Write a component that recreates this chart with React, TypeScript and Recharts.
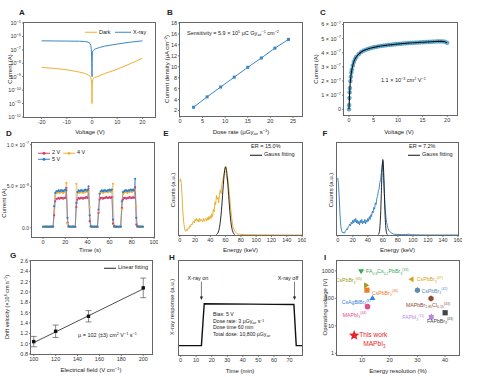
import React from 'react';
import { LineChart, Line, XAxis, YAxis, ErrorBar, ReferenceLine, ReferenceDot } from 'recharts';

const FONT = '"Liberation Sans", Arial, Helvetica, sans-serif';
const INK = '#222';
const FRAME = '#666';
const TICK_FS = 5.5;

// ---------- A: I-V curves (log current)
const A_VOLT = [-20, -15, -10, -5, -3, -2, -1, -0.5, -0.3, -0.15, -0.05, 0, 0.05, 0.15, 0.3, 0.5, 1, 2, 3, 5, 10, 15, 20];
const A_DARK = [4.9e-9, 4.2e-9, 3.3e-9, 2.2e-9, 1.8e-9, 1.5e-9, 1.2e-9, 9e-10, 6e-10, 3e-10, 8e-11, 1e-11, 2e-10, 4e-10, 6e-10, 7.5e-10, 8.5e-10, 1e-9, 1.2e-9, 1.7e-9, 3.6e-9, 9e-9, 2.4e-8];
const A_XRAY = [4.7e-7, 4.6e-7, 4.5e-7, 4.4e-7, 4.2e-7, 4.0e-7, 3.4e-7, 2.2e-7, 1.2e-7, 3e-8, 4e-9, 1e-9, 1e-8, 5e-8, 8e-8, 9e-8, 1.1e-7, 1.3e-7, 1.5e-7, 1.9e-7, 2.7e-7, 3.7e-7, 4.7e-7];
const A_XTICKS = [-20, -10, 0, 10, 20];
const A_YTICKS = [1e-12, 1e-11, 1e-10, 1e-9, 1e-8, 1e-7, 1e-6, 1e-5];

// ---------- B: current density vs dose rate
const B_DOSE = [3, 6, 9, 12, 15, 18, 21, 24];
const B_J = [2.6, 4.5, 6.3, 8.1, 9.9, 11.6, 13.4, 15.0];
const B_XTICKS = [0, 5, 10, 15, 20, 25];
const B_YTICKS = [2, 4, 6, 8, 10, 12, 14, 16, 18];

// ---------- C: photocurrent vs voltage (x 1e-7 A)
const C_VOLT = [0, 0.05, 0.1, 0.15, 0.2, 0.3, 0.4, 0.5, 0.6, 0.8, 1.0, 1.25, 1.5, 2, 2.5, 3, 3.5, 4, 4.5, 5, 5.5, 6, 6.5, 7, 7.5, 8, 8.5, 9, 9.5, 10, 10.5, 11, 11.5, 12, 12.5, 13, 13.5, 14, 14.5, 15, 15.5, 16, 16.5, 17, 17.5, 18, 18.5, 19, 19.5, 20];
const C_CUR = [0, 0.3, 0.8, 1.2, 1.5, 2.0, 2.3, 2.6, 2.8, 3.1, 3.35, 3.55, 3.7, 3.9, 4.05, 4.15, 4.22, 4.28, 4.33, 4.38, 4.41, 4.45, 4.48, 4.5, 4.52, 4.55, 4.56, 4.58, 4.6, 4.62, 4.63, 4.65, 4.66, 4.68, 4.69, 4.7, 4.71, 4.72, 4.73, 4.74, 4.75, 4.76, 4.77, 4.78, 4.79, 4.8, 4.8, 4.8, 4.78, 4.7];
const C_XTICKS = [0, 5, 10, 15, 20];
const C_YTICKS = [0, 1, 2, 3, 4, 5, 6];

// ---------- D: on/off response (x 1e-8 A)
const D_TIME = [0, 1, 2, 3, 4, 5, 6, 7, 8, 9, 10, 11, 12, 13, 14, 15, 16, 17, 18, 19, 20, 21, 22, 23, 24, 25, 26, 27, 28, 29, 30, 31, 32, 33, 34, 35, 36, 37, 38, 39, 40, 41, 42, 43, 44, 45, 46, 47, 48, 49, 50, 51, 52, 53, 54, 55, 56, 57, 58, 59, 60, 61, 62, 63, 64, 65, 66, 67, 68, 69, 70, 71, 72, 73, 74, 75, 76, 77, 78, 79, 80, 81, 82, 83, 84, 85, 86, 87, 88, 89, 90];
const D_2V = [0.1, 0.12, 0.1, 0.11, 0.1, 0.1, 0.12, 0.1, 0.11, 0.1,
  1.5, 3.2, 3.5, 3.5, 3.6, 3.5, 3.6, 3.6, 3.5, 3.6,
  3.6, 4.8, 0.6, 0.12, 0.1, 0.11, 0.1, 0.12, 0.1, 0.1,
  2.5, 3.4, 3.6, 3.5, 3.6, 3.6, 3.5, 3.6, 3.6, 3.7,
  3.6, 4.7, 0.8, 0.12, 0.1, 0.1, 0.11, 0.1, 0.12, 0.1,
  1.8, 3.4, 3.6, 3.6, 3.5, 3.6, 3.6, 3.7, 3.6, 3.6,
  3.7, 3.6, 3.7, 0.5, 0.12, 0.1, 0.11, 0.1, 0.1, 0.12,
  0.1, 2.4, 3.4, 3.6, 3.6, 3.5, 3.6, 3.6, 3.7, 3.6,
  3.6, 3.7, 3.6, 4.9, 0.4, 0.1, 0.11, 0.1, 0.12, 0.1, 0.1];
const D_4V = [0.12, 0.1, 0.11, 0.12, 0.1, 0.11, 0.12, 0.1, 0.11, 0.12,
  2.0, 3.8, 4.2, 4.2, 4.3, 4.2, 4.3, 4.3, 4.2, 4.3,
  4.3, 5.4, 0.5, 0.12, 0.1, 0.11, 0.12, 0.1, 0.11, 0.1,
  5.3, 4.2, 4.3, 4.2, 4.3, 4.3, 4.2, 4.3, 4.3, 4.4,
  4.3, 4.4, 2.5, 0.12, 0.1, 0.11, 0.12, 0.1, 0.1, 0.11,
  2.0, 4.1, 4.3, 4.3, 4.2, 4.3, 4.3, 4.4, 4.3, 4.3,
  4.4, 4.3, 4.4, 5.3, 0.3, 0.1, 0.11, 0.12, 0.1, 0.1,
  0.11, 2.2, 4.0, 4.2, 4.3, 4.3, 4.2, 4.3, 4.3, 4.4,
  4.3, 4.4, 4.4, 4.5, 2.6, 0.12, 0.1, 0.11, 0.1, 0.12, 0.1];
const D_5V = [0.15, 0.13, 0.16, 0.14, 0.15, 0.12, 0.15, 0.16, 0.14, 0.15,
  2.6, 4.2, 4.4, 4.4, 4.5, 4.4, 4.5, 4.5, 4.4, 4.5,
  4.6, 4.5, 1.2, 0.2, 0.15, 0.13, 0.16, 0.14, 0.15, 0.13,
  3.0, 4.3, 4.5, 4.4, 4.5, 4.5, 4.4, 4.5, 4.6, 4.5,
  4.5, 5.0, 1.5, 0.2, 0.14, 0.15, 0.13, 0.16, 0.15, 0.14,
  2.2, 4.1, 4.4, 4.5, 4.4, 4.5, 4.5, 4.4, 4.5, 4.5,
  4.6, 4.5, 4.6, 1.0, 0.2, 0.15, 0.14, 0.16, 0.13, 0.15,
  0.15, 3.2, 4.3, 4.4, 4.5, 4.5, 4.4, 4.5, 4.5, 4.6,
  4.5, 4.6, 4.5, 5.9, 1.2, 0.2, 0.15, 0.14, 0.16, 0.15, 0.15];
const D_XTICKS = [0, 20, 40, 60, 80, 100];
const D_YTICKS = [0, 5, 10];

// ---------- E: energy spectrum, ER 15.0%
const E_KEV = [0, 1, 2, 3, 4, 5, 6, 7, 8, 9, 10, 11, 12, 13, 14, 15, 16, 17, 18, 19, 20, 21, 22, 23, 24, 25, 26, 27, 28, 29, 30, 31, 32, 33, 34, 35, 36, 37, 38, 39, 40, 41, 42, 43, 44, 45, 46, 47, 48, 49, 50, 51, 52, 53, 54, 55, 56, 57, 58, 59, 60, 61, 62, 63, 64, 65, 66, 67, 68, 69, 70, 71, 72, 73, 74, 75, 76, 78, 80, 85, 90, 100, 110, 120, 130, 140, 150, 160];
const E_COUNTS = [0.58, 0.61, 0.56, 0.43, 0.26, 0.15, 0.09, 0.05, 0.04, 0.06,
  0.05, 0.08, 0.07, 0.1, 0.09, 0.12, 0.11, 0.14, 0.15, 0.13,
  0.17, 0.15, 0.18, 0.15, 0.17, 0.14, 0.18, 0.15, 0.17, 0.16,
  0.14, 0.18, 0.15, 0.17, 0.18, 0.15, 0.19, 0.16, 0.2, 0.17,
  0.21, 0.18, 0.23, 0.2, 0.28, 0.25, 0.36, 0.33, 0.43, 0.39,
  0.41, 0.35, 0.44, 0.49, 0.45, 0.54, 0.59, 0.62, 0.67, 0.71,
  0.75, 0.65, 0.6, 0.61, 0.52, 0.44, 0.35, 0.26, 0.19, 0.12,
  0.08, 0.06, 0.04, 0.03, 0.02, 0.015, 0.01, 0.01, 0.006, 0.004, 0.003, 0.002, 0.001, 0.001, 0, 0, 0, 0];
const E_FIT_KEV = [48, 49, 50, 51, 52, 53, 54, 55, 56, 57, 58, 59, 60, 61, 62, 63, 64, 65, 66, 67, 68, 69, 70, 71, 72];
const E_FIT = [0.005, 0.012, 0.024, 0.046, 0.083, 0.138, 0.216, 0.314, 0.428, 0.544, 0.645, 0.715, 0.74, 0.715, 0.645, 0.544, 0.428, 0.314, 0.216, 0.138, 0.083, 0.046, 0.024, 0.012, 0.005];

// ---------- F: energy spectrum, ER 7.2%
const F_KEV = [0, 1, 2, 3, 4, 5, 6, 7, 8, 9, 10, 11, 12, 13, 14, 15, 16, 17, 18, 19, 20, 21, 22, 23, 24, 25, 26, 27, 28, 29, 30, 31, 32, 33, 34, 35, 36, 37, 38, 39, 40, 41, 42, 43, 44, 45, 46, 47, 48, 49, 50, 51, 52, 53, 54, 55, 56, 57, 58, 59, 60, 61, 62, 63, 64, 65, 66, 67, 68, 69, 70, 72, 74, 76, 80, 85, 90, 95, 96, 100, 110, 120, 140, 160];
const F_COUNTS = [0.62, 0.55, 0.4, 0.22, 0.1, 0.05, 0.03, 0.02, 0.03, 0.02,
  0.04, 0.05, 0.07, 0.06, 0.09, 0.1, 0.12, 0.1, 0.14, 0.12,
  0.16, 0.13, 0.17, 0.14, 0.18, 0.13, 0.16, 0.12, 0.15, 0.11,
  0.16, 0.13, 0.17, 0.12, 0.15, 0.13, 0.17, 0.12, 0.16, 0.14,
  0.18, 0.15, 0.2, 0.17, 0.22, 0.2, 0.26, 0.24, 0.3, 0.28,
  0.35, 0.33, 0.4, 0.42, 0.48, 0.5, 0.57, 0.6, 0.68, 0.75,
  0.8, 0.62, 0.45, 0.3, 0.2, 0.14, 0.1, 0.07, 0.05, 0.04,
  0.03, 0.02, 0.01, 0.008, 0.005, 0.005, 0.004, 0.01, 0.003, 0.002, 0.001, 0, 0, 0];
const F_FIT_KEV = [54, 55, 56, 57, 58, 59, 60, 61, 62, 63, 64, 65, 66];
const F_FIT = [0.004, 0.02, 0.077, 0.216, 0.453, 0.707, 0.82, 0.707, 0.453, 0.216, 0.077, 0.02, 0.004];
const EF_XTICKS = [0, 20, 40, 60, 80, 100, 120, 140, 160];

// ---------- G: drift velocity vs field
const G_FIELD = [100, 120, 150, 200];
const G_VEL = [1.04, 1.24, 1.53, 2.08];
const G_ERR = [0.1, 0.12, 0.11, 0.19];
const G_FIT_FIELD = [100, 200];
const G_FIT_VEL = [1.02, 2.06];
const G_XTICKS = [100, 120, 140, 160, 180, 200];
const G_YTICKS = [0.8, 1.0, 1.2, 1.4, 1.6, 1.8, 2.0, 2.2, 2.4, 2.6];

// ---------- H: long-term response
const H_MIN = [-1, 13.4, 15.2, 30, 45, 60, 72.8, 74.3, 78];
const H_RESP = [0.1, 0.1, 0.545, 0.543, 0.541, 0.539, 0.537, 0.1, 0.1];
const H_ARROW_X = [13.4, 73.2];
const H_ARROW_TOP = 0.78;
const H_ARROW_TIP = 0.585;
const H_XTICKS = [0, 10, 20, 30, 40, 50, 60, 70];

// ---------- I: comparison with literature
const I_IDS = ['fa', 'cs45', 'cs47', 'cs46', 'cs42', 'agbi', 'mapbi', 'mapbbr', 'fapbi', 'fapbbr', 'this'];
const I_LABELS = ['FA0.9Cs0.1PbBr3(33)', 'CsPbBr3(45)', 'CsPbBr3(47)', 'CsPbBr3(46)', 'CsPbBr3(42)', 'CsAgBiBr6(8)', 'MAPbI3(44)', 'MAPbBr2.85Cl0.15(43)', 'FAPbI3(11)', 'FAPbBr3(43)', 'This work'];
const I_RES = [9.7, 11.4, 28, 11.8, 30, 13.8, 12, 34.9, 35, 40, 7.2];
const I_VOLT = [1000, 300, 500, 200, 200, 100, 50, 100, 21, 30, 4.5];
const I_XTICKS = [10, 20, 30, 40];
const I_YTICKS = [1, 10, 100, 1000];

const I_STYLE: Record<string, { color: string; kind: string; dx: number; dy: number; anchor: 'start' | 'middle' | 'end' }> = {
  fa: { color: '#3aa65a', kind: 'triDown', dx: 5, dy: 2.5, anchor: 'start' },
  cs45: { color: '#9b9b1c', kind: 'triRight', dx: -4, dy: -3, anchor: 'end' },
  cs47: { color: '#d8a21c', kind: 'triLeft', dx: 5, dy: 2, anchor: 'start' },
  cs46: { color: '#f07b22', kind: 'square', dx: 5, dy: 4.5, anchor: 'start' },
  cs42: { color: '#5b8db8', kind: 'hex', dx: 4, dy: 2.5, anchor: 'start' },
  agbi: { color: '#2f7ee0', kind: 'triUp', dx: -2, dy: 5.5, anchor: 'end' },
  mapbi: { color: '#e24d8d', kind: 'circle', dx: -1, dy: 10, anchor: 'end' },
  mapbbr: { color: '#8c4a3c', kind: 'hex', dx: -3, dy: 8.5, anchor: 'middle' },
  fapbi: { color: '#b58ae6', kind: 'star6', dx: -7, dy: 2, anchor: 'end' },
  fapbbr: { color: '#444', kind: 'square', dx: -5, dy: 10, anchor: 'middle' },
  this: { color: '#e8222b', kind: 'star', dx: 5, dy: 1.5, anchor: 'start' },
};

// ---------- tables for recharts
const aDark = A_VOLT.map((x, i) => ({ x, y: A_DARK[i] }));
const aXray = A_VOLT.map((x, i) => ({ x, y: A_XRAY[i] }));
const bData = B_DOSE.map((x, i) => ({ x, y: B_J[i] }));
const cData = C_VOLT.map((x, i) => ({ x, y: C_CUR[i] }));
const dData = D_TIME.map((x, i) => ({ x, v2: D_2V[i], v4: D_4V[i], v5: D_5V[i] }));
const eData = E_KEV.map((x, i) => ({ x, y: E_COUNTS[i] }));
const eFit = E_FIT_KEV.map((x, i) => ({ x, y: E_FIT[i] }));
const fData = F_KEV.map((x, i) => ({ x, y: F_COUNTS[i] }));
const fFit = F_FIT_KEV.map((x, i) => ({ x, y: F_FIT[i] }));
const gData = G_FIELD.map((x, i) => ({ x, y: G_VEL[i], err: G_ERR[i] }));
const gFit = G_FIT_FIELD.map((x, i) => ({ x, y: G_FIT_VEL[i] }));
const hData = H_MIN.map((x, i) => ({ x, y: H_RESP[i] }));
const iData = I_IDS.map((id, i) => ({ id, label: I_LABELS[i], x: I_RES[i], y: I_VOLT[i] }));

// ---------- layout helpers
type Box = { l: number; t: number; r: number; b: number };
const MT = 4;
const MR = 4;

const dims = (box: Box, yw: number, xh: number) => ({
  width: box.r - box.l + yw + MR,
  height: box.b - box.t + MT + xh,
  margin: { top: MT, right: MR, left: 0, bottom: 0 },
});

const At = ({ box, yw, children }: { box: Box; yw: number; children: React.ReactNode }) => (
  <div style={{ position: 'absolute', left: box.l - yw, top: box.t - MT }}>{children}</div>
);

const Frame = ({ box }: { box: Box }) => (
  <div style={{ position: 'absolute', left: box.l - 0.75, top: box.t - 0.75, width: box.r - box.l + 1.5, height: box.b - box.t + 1.5, border: `1.5px solid ${FRAME}`, boxSizing: 'border-box', pointerEvents: 'none' }} />
);

type TxtProps = { x: number; y: number; size?: number; color?: string; anchor?: 'start' | 'middle' | 'end'; rot?: boolean; bold?: boolean; children: React.ReactNode };
const Txt = ({ x, y, size = 6, color = INK, anchor = 'middle', rot = false, bold = false, children }: TxtProps) => {
  const tx = rot || anchor === 'middle' ? '-50%' : anchor === 'end' ? '-100%' : '0';
  return (
    <div style={{ position: 'absolute', left: x, top: y, fontSize: size, color, fontFamily: FONT, fontWeight: bold ? 700 : 400, whiteSpace: 'nowrap', lineHeight: 1, transform: `translate(${tx}, -50%)${rot ? ' rotate(-90deg)' : ''}` }}>
      {children}
    </div>
  );
};
const Sup = ({ children }: { children: React.ReactNode }) => <span style={{ fontSize: '0.68em', verticalAlign: '0.5em', lineHeight: 0 }}>{children}</span>;
const Sub = ({ children }: { children: React.ReactNode }) => <span style={{ fontSize: '0.68em', verticalAlign: '-0.25em', lineHeight: 0 }}>{children}</span>;

const LegendLine = ({ x, y, w, color, label, dot = false }: { x: number; y: number; w: number; color: string; label: string; dot?: boolean }) => (
  <div style={{ position: 'absolute', left: x, top: y, transform: 'translateY(-50%)', display: 'flex', alignItems: 'center', fontFamily: FONT, fontSize: 5.5, color: INK, lineHeight: 1, whiteSpace: 'nowrap' }}>
    <svg width={w} height={4} style={{ display: 'block' }}>
      <line x1={0} y1={2} x2={w} y2={2} stroke={color} strokeWidth={1} />
      {dot && <circle cx={w / 2} cy={2} r={1.5} fill={color} />}
    </svg>
    <span style={{ marginLeft: 2 }}>{label}</span>
  </div>
);

const tickStyle = { fontSize: TICK_FS, fill: '#333', fontFamily: FONT };
const xBase = { type: 'number' as const, dataKey: 'x', axisLine: false, tickLine: { stroke: INK, strokeWidth: 0.6 }, tickSize: 2, tickMargin: 1, interval: 0 as const, allowDataOverflow: true, tick: tickStyle };
const yBase = { type: 'number' as const, axisLine: false, tickLine: { stroke: INK, strokeWidth: 0.6 }, tickSize: 2, tickMargin: 1, interval: 0 as const, allowDataOverflow: true, tick: tickStyle };

const PowText = ({ x, y, pre, exp, fs = TICK_FS }: { x: number; y: number; pre: string; exp: string; fs?: number }) => (
  <text x={x} y={y} dy={2} textAnchor="end" fontSize={fs} fontFamily={FONT} fill="#333">
    {pre}10<tspan dy={-2.4} fontSize={fs * 0.7}>{exp}</tspan>
  </text>
);

const plainTick = (p: any, label: string, fs = TICK_FS) => (
  <text x={p.x} y={p.y} dy={2} textAnchor="end" fontSize={fs} fontFamily={FONT} fill="#333">{label}</text>
);

const aTick = (p: any) => {
  const e = Math.round(Math.log10(p.payload.value));
  return <PowText x={p.x} y={p.y} pre="" exp={`−${-e}`} />;
};
const cTick = (p: any) => (p.payload.value === 0 ? plainTick(p, '0') : <PowText x={p.x} y={p.y} pre={`${p.payload.value} × `} exp="−7" />);
const dTick = (p: any) => {
  const v = p.payload.value;
  if (v === 0) return plainTick(p, '0.0', 5);
  if (v === 5) return <PowText x={p.x} y={p.y} pre="5.0 × " exp="−8" fs={5} />;
  return <PowText x={p.x} y={p.y} pre="1.0 × " exp="−7" fs={5} />;
};

const squareDot = (color: string, s: number) => (p: any) =>
  p.cx == null ? <g key={p.key} /> : <rect key={p.key} x={p.cx - s / 2} y={p.cy - s / 2} width={s} height={s} fill={color} />;

// ---------- marker shapes for panel I
const polyPts = (cx: number, cy: number, r: number, n: number, rot: number, inner?: number) => {
  const pts: string[] = [];
  const m = inner ? n * 2 : n;
  for (let k = 0; k < m; k++) {
    const rr = inner && k % 2 === 1 ? inner : r;
    const a = rot + (k * 2 * Math.PI) / m;
    pts.push(`${(cx + rr * Math.cos(a)).toFixed(2)},${(cy + rr * Math.sin(a)).toFixed(2)}`);
  }
  return pts.join(' ');
};

const Marker = ({ kind, cx, cy, color }: { kind: string; cx: number; cy: number; color: string }) => {
  const up = -Math.PI / 2;
  switch (kind) {
    case 'triDown': return <polygon points={polyPts(cx, cy, 3.4, 3, Math.PI / 2)} fill={color} />;
    case 'triUp': return <polygon points={polyPts(cx, cy, 3.4, 3, up)} fill={color} />;
    case 'triRight': return <polygon points={polyPts(cx, cy, 3.4, 3, 0)} fill={color} />;
    case 'triLeft': return <polygon points={polyPts(cx, cy, 3.4, 3, Math.PI)} fill={color} />;
    case 'square': return <rect x={cx - 2.6} y={cy - 2.6} width={5.2} height={5.2} fill={color} />;
    case 'circle': return <circle cx={cx} cy={cy} r={2.8} fill={color} />;
    case 'hex': return <polygon points={polyPts(cx, cy, 3, 6, up)} fill={color} />;
    case 'star6': return <polygon points={polyPts(cx, cy, 3.4, 6, up, 2.2)} fill={color} />;
    case 'star': return <polygon points={polyPts(cx, cy, 5.5, 5, up, 2.4)} fill={color} />;
    default: return <circle cx={cx} cy={cy} r={2.5} fill={color} />;
  }
};

const chemSpans = (s: string, fs: number) => {
  const parts = s.match(/\(\d+\)|\d+(?:\.\d+)?|[^\d(]+/g) ?? [];
  let prev = 0;
  return parts.map((p, i) => {
    const kind = p[0] === '(' ? 'sup' : /\d/.test(p[0]) ? 'sub' : 'n';
    const off = kind === 'sup' ? -0.45 * fs : kind === 'sub' ? 0.3 * fs : 0;
    const dy = off - prev;
    prev = off;
    return <tspan key={i} dy={dy} fontSize={kind === 'n' ? fs : fs * 0.68}>{p}</tspan>;
  });
};

const I_FS = 5.2;
const iDot = (p: any) => {
  if (p.cx == null || !p.payload) return <g key={p.key} />;
  const st = I_STYLE[p.payload.id];
  const { cx, cy } = p;
  if (p.payload.id === 'this') {
    return (
      <g key={p.key}>
        <Marker kind={st.kind} cx={cx} cy={cy} color={st.color} />
        <text x={cx + st.dx} y={cy + st.dy} fontSize={6.6} fontFamily={FONT} fill={st.color}>{p.payload.label}</text>
        <text x={cx + st.dx + 4} y={cy + st.dy + 9} fontSize={6.6} fontFamily={FONT} fill={st.color}>{chemSpans('MAPbI3', 6.6)}</text>
      </g>
    );
  }
  return (
    <g key={p.key}>
      <Marker kind={st.kind} cx={cx} cy={cy} color={st.color} />
      <text x={cx + st.dx} y={cy + st.dy} textAnchor={st.anchor} fontSize={I_FS} fontFamily={FONT} fill={st.color}>{chemSpans(p.payload.label, I_FS)}</text>
    </g>
  );
};

const arrowHead = (p: any) => (
  <path d={`M${p.cx - 1.6},${p.cy - 3.5} L${p.cx + 1.6},${p.cy - 3.5} L${p.cx},${p.cy} Z`} fill={INK} />
);

// ---------- panels
const BOX_A: Box = { l: 24, t: 23, r: 155, b: 117 };
const BOX_B: Box = { l: 180, t: 23, r: 302, b: 116 };
const BOX_C: Box = { l: 344, t: 23, r: 457, b: 115 };
const BOX_D: Box = { l: 32, t: 143, r: 154, b: 237 };
const BOX_E: Box = { l: 179, t: 143, r: 302, b: 235 };
const BOX_F: Box = { l: 337, t: 143, r: 458, b: 235 };
const BOX_G: Box = { l: 31, t: 261, r: 152, b: 354 };
const BOX_H: Box = { l: 179, t: 261, r: 302, b: 355 };
const BOX_I: Box = { l: 337, t: 261, r: 459, b: 355 };

const C_DARK = '#f0b030';
const C_BLUE = '#3a86c4';
const D_RED = '#d8406a';
const D_YEL = '#f2b33a';
const D_BLUE = '#2f80c8';

function PanelA() {
  const d = dims(BOX_A, 24, 14);
  return (
    <>
      <At box={BOX_A} yw={24}>
        <LineChart {...d}>
          <XAxis {...xBase} domain={[-27, 25]} ticks={A_XTICKS} height={14} />
          <YAxis {...yBase} scale="log" domain={[1e-12, 1e-5]} ticks={A_YTICKS} width={24} tick={aTick} />
          <Line data={aDark} dataKey="y" stroke={C_DARK} strokeWidth={1} dot={false} isAnimationActive={false} />
          <Line data={aXray} dataKey="y" stroke={C_BLUE} strokeWidth={1} dot={false} isAnimationActive={false} />
        </LineChart>
      </At>
      <Frame box={BOX_A} />
      <LegendLine x={85} y={32.5} w={12} color={C_DARK} label="Dark" />
      <LegendLine x={115} y={32.5} w={16} color={C_BLUE} label="X-ray" />
      <Txt x={22} y={13} size={8} bold>A</Txt>
      <Txt x={10} y={69} rot>Current (A)</Txt>
      <Txt x={90} y={132}>Voltage (V)</Txt>
    </>
  );
}

function PanelB() {
  const d = dims(BOX_B, 16, 14);
  return (
    <>
      <At box={BOX_B} yw={16}>
        <LineChart {...d}>
          <XAxis {...xBase} domain={[0, 27]} ticks={B_XTICKS} height={14} />
          <YAxis {...yBase} domain={[1, 18]} ticks={B_YTICKS} width={16} />
          <Line data={bData} dataKey="y" stroke={C_BLUE} strokeWidth={1} dot={squareDot(C_BLUE, 3)} isAnimationActive={false} />
        </LineChart>
      </At>
      <Frame box={BOX_B} />
      <Txt x={187} y={33.5} size={5.5} anchor="start">Sensitivity = 5.9 × 10<Sup>5</Sup> μC Gy<Sub>air</Sub><Sup>−1</Sup> cm<Sup>−2</Sup></Txt>
      <Txt x={170} y={13} size={8} bold>B</Txt>
      <Txt x={167} y={69} rot>Current density (μA cm<Sup>−2</Sup>)</Txt>
      <Txt x={241} y={132}>Dose rate (μGy<Sub>air</Sub> s<Sup>−1</Sup>)</Txt>
    </>
  );
}

function PanelC() {
  const yw = 30;
  const xh = 14;
  const d = dims(BOX_C, yw, xh);
  return (
    <>
      <At box={BOX_C} yw={yw}>
        <LineChart {...d}>
          <XAxis {...xBase} domain={[-1, 22]} ticks={C_XTICKS} height={xh} />
          <YAxis {...yBase} domain={[-0.4, 6.1]} ticks={C_YTICKS} width={yw} tick={cTick} />
          <Line data={cData} dataKey="y" stroke="none" dot={{ r: 1.9, fill: '#6cbbe0', stroke: '#2a7fb0', strokeWidth: 0.5 }} isAnimationActive={false} />
        </LineChart>
      </At>
      {/* fit line drawn in an overlay so it sits above the markers */}
      <div style={{ position: 'absolute', left: BOX_C.l - yw, top: BOX_C.t - MT, pointerEvents: 'none' }}>
        <LineChart width={d.width} height={d.height} margin={{ top: MT, right: MR, left: yw, bottom: xh }}>
          <XAxis type="number" dataKey="x" hide domain={[-1, 22]} allowDataOverflow />
          <YAxis type="number" hide domain={[-0.4, 6.1]} allowDataOverflow />
          <Line data={cData} dataKey="y" type="monotone" stroke="#111" strokeWidth={1.1} dot={false} isAnimationActive={false} />
        </LineChart>
      </div>
      <Frame box={BOX_C} />
      <Txt x={381} y={81} size={5.5} anchor="start">1.1 × 10<Sup>−3</Sup> cm<Sup>2</Sup> V<Sup>−1</Sup></Txt>
      <Txt x={323} y={13} size={8} bold>C</Txt>
      <Txt x={316} y={69} rot>Current (A)</Txt>
      <Txt x={399} y={132}>Voltage (V)</Txt>
    </>
  );
}

function PanelD() {
  const d = dims(BOX_D, 32, 14);
  return (
    <>
      <At box={BOX_D} yw={32}>
        <LineChart {...d} data={dData}>
          <XAxis {...xBase} domain={[-10, 100]} ticks={D_XTICKS} height={14} />
          <YAxis {...yBase} domain={[-1.1, 10.2]} ticks={D_YTICKS} width={32} tick={dTick} />
          <Line dataKey="v2" stroke={D_RED} strokeWidth={0.6} dot={{ r: 1.1, fill: D_RED, stroke: 'none' }} isAnimationActive={false} />
          <Line dataKey="v4" stroke={D_YEL} strokeWidth={0.6} dot={{ r: 1.1, fill: D_YEL, stroke: 'none' }} isAnimationActive={false} />
          <Line dataKey="v5" stroke={D_BLUE} strokeWidth={0.6} dot={{ r: 1.1, fill: D_BLUE, stroke: 'none' }} isAnimationActive={false} />
        </LineChart>
      </At>
      <Frame box={BOX_D} />
      <LegendLine x={38} y={153} w={12} color={D_RED} label="2 V" dot />
      <LegendLine x={63} y={153} w={12} color={D_YEL} label="4 V" dot />
      <LegendLine x={38} y={159.5} w={12} color={D_BLUE} label="5 V" dot />
      <Txt x={9} y={134} size={8} bold>D</Txt>
      <Txt x={4} y={203} rot>Current (A)</Txt>
      <Txt x={90} y={250}>Time (s)</Txt>
    </>
  );
}

function Spectrum({ box, data, fit, color, letter, lx, er }: { box: Box; data: any[]; fit: any[]; color: string; letter: string; lx: number; er: string }) {
  const d = dims(box, 8, 14);
  return (
    <>
      <At box={box} yw={8}>
        <LineChart {...d}>
          <XAxis {...xBase} domain={[-1, 160]} ticks={EF_XTICKS} height={14} />
          <YAxis {...yBase} domain={[0, 1]} tick={false} tickLine={false} width={8} />
          <Line data={data} dataKey="y" stroke={color} strokeWidth={0.9} dot={false} isAnimationActive={false} />
          <Line data={fit} dataKey="y" type="monotone" stroke="#111" strokeWidth={0.9} dot={false} isAnimationActive={false} />
        </LineChart>
      </At>
      <Frame box={box} />
      <Txt x={box.l + 72} y={147} size={5.5} anchor="start">ER = {er}</Txt>
      <LegendLine x={box.l + 71} y={155} w={12} color="#111" label="Gauss fitting" />
      <Txt x={lx} y={134} size={8} bold>{letter}</Txt>
      <Txt x={box.l - 6} y={190} rot>Counts (a.u.)</Txt>
      <Txt x={(box.l + box.r) / 2} y={250}>Energy (keV)</Txt>
    </>
  );
}

function PanelG() {
  const d = dims(BOX_G, 20, 14);
  return (
    <>
      <At box={BOX_G} yw={20}>
        <LineChart {...d}>
          <XAxis {...xBase} domain={[97.5, 208]} ticks={G_XTICKS} height={14} />
          <YAxis {...yBase} domain={[0.8, 2.6]} ticks={G_YTICKS} width={20} tickFormatter={(v: number) => v.toFixed(1)} />
          <Line data={gFit} dataKey="y" stroke="#222" strokeWidth={0.8} dot={false} isAnimationActive={false} />
          <Line data={gData} dataKey="y" stroke="none" dot={squareDot('#111', 3.4)} isAnimationActive={false}>
            <ErrorBar dataKey="err" direction="y" width={3} stroke="#555" strokeWidth={0.7} />
          </Line>
        </LineChart>
      </At>
      <Frame box={BOX_G} />
      <LegendLine x={104} y={268} w={12} color="#222" label="Linear fitting" />
      <Txt x={78} y={336} size={5.5} anchor="start">μ = 102 (±3) cm<Sup>2</Sup> V<Sup>−1</Sup> s<Sup>−1</Sup></Txt>
      <Txt x={13} y={256} size={8} bold>G</Txt>
      <Txt x={8} y={307} size={5.5} rot>Drift velocity (×10<Sup>6</Sup> cm s<Sup>−1</Sup>)</Txt>
      <Txt x={91} y={370}>Electrical field (V cm<Sup>−1</Sup>)</Txt>
    </>
  );
}

function PanelH() {
  const d = dims(BOX_H, 8, 14);
  return (
    <>
      <At box={BOX_H} yw={8}>
        <LineChart {...d}>
          <XAxis {...xBase} domain={[-1, 78]} ticks={H_XTICKS} height={14} />
          <YAxis {...yBase} domain={[0, 1]} tick={false} tickLine={false} width={8} />
          <Line data={hData} dataKey="y" type="linear" stroke="#111" strokeWidth={1.4} dot={false} isAnimationActive={false} />
          {H_ARROW_X.map((ax) => (
            <ReferenceLine key={`l${ax}`} segment={[{ x: ax, y: H_ARROW_TOP }, { x: ax, y: H_ARROW_TIP + 0.03 }]} stroke={INK} strokeWidth={0.6} />
          ))}
          {H_ARROW_X.map((ax) => (
            <ReferenceDot key={`d${ax}`} x={ax} y={H_ARROW_TIP} shape={arrowHead} />
          ))}
        </LineChart>
      </At>
      <Frame box={BOX_H} />
      <Txt x={198} y={278.5} size={5.5}>X-ray on</Txt>
      <Txt x={288} y={278.5} size={5.5}>X-ray off</Txt>
      <Txt x={213} y={315} size={5.2} anchor="start">Bias: 5 V</Txt>
      <Txt x={213} y={321.7} size={5.2} anchor="start">Dose rate: 3 μGy<Sub>air</Sub> s<Sup>−1</Sup></Txt>
      <Txt x={213} y={328.4} size={5.2} anchor="start">Dose time 60 min</Txt>
      <Txt x={213} y={335.1} size={5.2} anchor="start">Total dose: 10,800 μGy<Sub>air</Sub></Txt>
      <Txt x={172} y={258} size={8} bold>H</Txt>
      <Txt x={172} y={307} rot>X-ray response (a.u.)</Txt>
      <Txt x={240} y={371}>Time (min)</Txt>
    </>
  );
}

function PanelI() {
  const d = dims(BOX_I, 16, 14);
  return (
    <>
      <At box={BOX_I} yw={16}>
        <LineChart {...d}>
          <XAxis {...xBase} domain={[1, 45]} ticks={I_XTICKS} height={14} />
          <YAxis {...yBase} scale="log" domain={[0.87, 2300]} ticks={I_YTICKS} width={16} />
          <Line data={iData} dataKey="y" stroke="none" dot={iDot} isAnimationActive={false} />
        </LineChart>
      </At>
      <Frame box={BOX_I} />
      <Txt x={325} y={258} size={8} bold>I</Txt>
      <Txt x={325} y={307} rot>Operating voltage (V)</Txt>
      <Txt x={398} y={371}>Energy resolution (%)</Txt>
    </>
  );
}

export default function App() {
  return (
    <div style={{ position: 'absolute', left: 0, top: 0, width: 489, height: 377, background: '#fff', overflow: 'hidden' }}>
      <PanelA />
      <PanelB />
      <PanelC />
      <PanelD />
      <Spectrum box={BOX_E} data={eData} fit={eFit} color="#e8a820" letter="E" lx={166} er="15.0%" />
      <Spectrum box={BOX_F} data={fData} fit={fFit} color="#2c7cc0" letter="F" lx={325} er="7.2%" />
      <PanelG />
      <PanelH />
      <PanelI />
    </div>
  );
}
